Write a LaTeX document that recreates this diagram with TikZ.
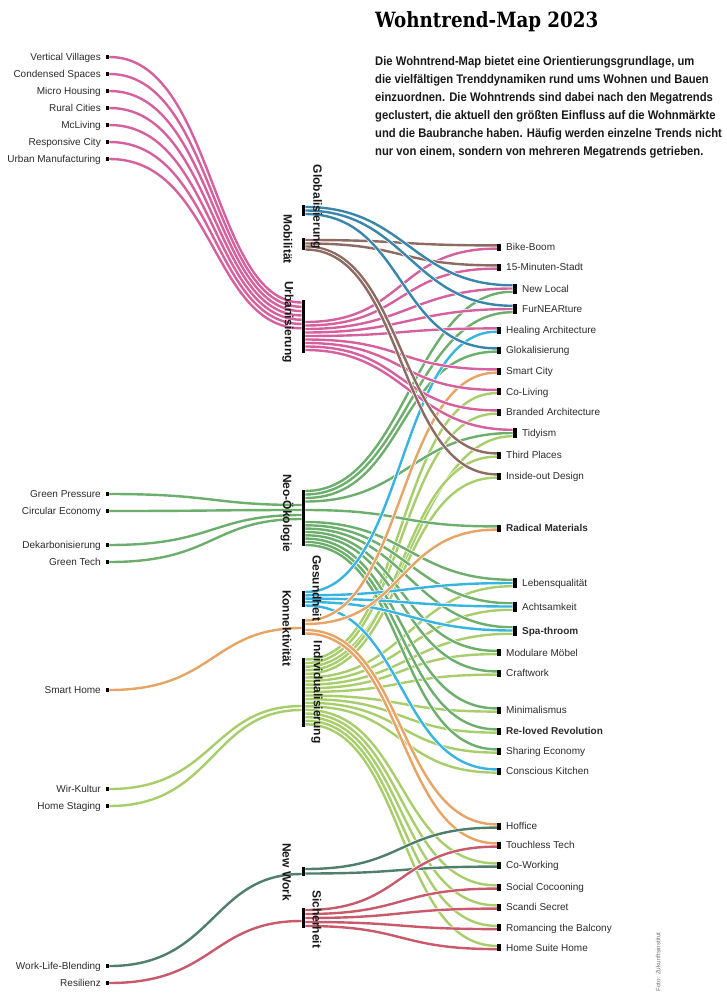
\documentclass[tikz,border=0pt]{standalone}
\usepackage{fontspec}
\setmainfont{Liberation Sans}
\newfontfamily\titlefont{DejaVu Serif}[FakeStretch=0.87]
\newfontfamily\condfont{Liberation Sans}[FakeStretch=0.9]
\usetikzlibrary{calc}
\pgfdeclarelayer{bg}
\pgfsetlayers{bg,main}
\definecolor{cUrb}{HTML}{D6609E}
\definecolor{cGlob}{HTML}{3A86AA}
\definecolor{cMob}{HTML}{8E6B62}
\definecolor{cNeo}{HTML}{6CAE6C}
\definecolor{cGes}{HTML}{37B4E0}
\definecolor{cKon}{HTML}{E8A464}
\definecolor{cInd}{HTML}{A8CE6B}
\definecolor{cNW}{HTML}{4F7E6B}
\definecolor{cSich}{HTML}{C85A6B}
\definecolor{labtxt}{HTML}{2B2B2B}
\tikzset{
  link/.style={draw=#1, line width=2.4pt, preaction={draw=white, line width=3.7pt}},
  mbar/.style={fill=black, inner sep=0pt, minimum width=3.5pt, draw=none},
  smk/.style={fill=black, inner sep=0pt, minimum width=4pt, minimum height=7pt},
  bmk/.style={fill=black, inner sep=0pt, minimum width=4.5pt, minimum height=10pt},
  lmk/.style={fill=black, inner sep=0pt, minimum width=3.5pt, minimum height=3.5pt},
  rlab/.style={anchor=base west, inner sep=0pt, text=labtxt, font=\fontsize{10}{12}\selectfont},
  llab/.style={anchor=base east, inner sep=0pt, text=labtxt, font=\fontsize{10}{12}\selectfont},
  mlab/.style={rotate=-90, inner sep=0pt, text=black!90, font=\bfseries\fontsize{12}{14}\selectfont},
  para/.style={anchor=base west, inner sep=0pt, text=black!90, font=\condfont\bfseries\fontsize{12.5}{18}\selectfont}
}
\newcommand\TrLeft[3]{\node[lmk] (#1) at (107.5,#2) {}; \node[llab] (#1-t) at (101,#2+3.5) {#3};}
\newcommand\TrS[3]{\node[smk] (#1) at (499,#2) {}; \node[rlab] (#1-t) at (506,#2+3.5) {#3};}
\newcommand\TrB[3]{\node[bmk] (#1) at (515,#2) {}; \node[rlab] (#1-t) at (522,#2+3.5) {#3};}
\newcommand\RLink[5]{\draw[link=#1] (#2.east |- 0,#3) .. controls +(100,0) and +(-100,0) .. ($(#4.west)+(0,#5)$);}
\newcommand\LLink[4]{\draw[link=#1] (#2.east) .. controls +(105,0) and +(-90,0) .. (#3.west |- 0,#4);}
\begin{document}
\begin{tikzpicture}[x=1pt,y=-1pt]
\useasboundingbox (0,0) rectangle (726,1000);
% title and text
\node[anchor=base west, inner sep=0pt, font=\titlefont\bfseries\fontsize{21}{24}\selectfont] (title) at (375,28) {Wohntrend-Map 2023};
\node[para] (p1) at (375,65.5) {Die Wohntrend-Map bietet eine Orientierungsgrundlage, um};
\node[para] (p2) at (375,83.5) {die vielfältigen Trenddynamiken rund ums Wohnen und Bauen};
\node[para] (p3) at (375,101.5) {einzuordnen. Die Wohntrends sind dabei nach den Megatrends};
\node[para] (p4) at (375,119.5) {geclustert, die aktuell den größten Einfluss auf die Wohnmärkte};
\node[para] (p5) at (375,137.5) {und die Baubranche haben. Häufig werden einzelne Trends nicht};
\node[para] (p6) at (375,155.5) {nur von einem, sondern von mehreren Megatrends getrieben.};
% megatrend bars
\node[mbar, minimum height=11pt] (glob) at (303.5,210.5) {};
\node[mbar, minimum height=12pt] (mob) at (303.5,244) {};
\node[mbar, minimum height=53pt] (urb) at (303.5,326.5) {};
\node[mbar, minimum height=56pt] (neo) at (303.5,518) {};
\node[mbar, minimum height=16pt] (ges) at (303.5,599) {};
\node[mbar, minimum height=16pt] (kon) at (303.5,627) {};
\node[mbar, minimum height=69pt] (ind) at (303.5,692.5) {};
\node[mbar, minimum height=9pt] (nw) at (303.5,871.5) {};
\node[mbar, minimum height=20pt] (sich) at (303.5,918) {};
% left trends
\TrLeft{vv}{57}{Vertical Villages}
\TrLeft{cs}{74}{Condensed Spaces}
\TrLeft{mh}{91}{Micro Housing}
\TrLeft{rc}{108}{Rural Cities}
\TrLeft{mcl}{125}{McLiving}
\TrLeft{rcity}{142}{Responsive City}
\TrLeft{um}{159}{Urban Manufacturing}
\TrLeft{gp}{494}{Green Pressure}
\TrLeft{ce}{511}{Circular Economy}
\TrLeft{dek}{545}{Dekarbonisierung}
\TrLeft{gt}{562}{Green Tech}
\TrLeft{sh}{690}{Smart Home}
\TrLeft{wir}{789}{Wir-Kultur}
\TrLeft{hs}{806}{Home Staging}
\TrLeft{wlb}{966}{Work-Life-Blending}
\TrLeft{res}{983}{Resilienz}
% right trends
\TrS{bike}{247}{Bike-Boom}
\TrS{minute}{267}{15-Minuten-Stadt}
\TrB{newlocal}{288.5}{New Local}
\TrB{furn}{309}{FurNEARture}
\TrS{healing}{330}{Healing Architecture}
\TrS{glokal}{350}{Glokalisierung}
\TrS{smartcity}{371}{Smart City}
\TrS{coliving}{391.5}{Co-Living}
\TrS{branded}{412}{Branded Architecture}
\TrB{tidyism}{433}{Tidyism}
\TrS{third}{455}{Third Places}
\TrS{insideout}{476}{Inside-out Design}
\TrS{radical}{528}{\textbf{Radical Materials}}
\TrB{lebens}{583}{Lebensqualität}
\TrB{acht}{606.5}{Achtsamkeit}
\TrB{spa}{630.5}{\textbf{Spa-throom}}
\TrS{modulare}{652.5}{Modulare Möbel}
\TrS{craft}{673}{Craftwork}
\TrS{minimal}{710}{Minimalismus}
\TrS{reloved}{731}{\textbf{Re-loved Revolution}}
\TrS{sharing}{751}{Sharing Economy}
\TrS{conscious}{771}{Conscious Kitchen}
\TrS{hoffice}{826}{Hoffice}
\TrS{touchless}{845}{Touchless Tech}
\TrS{coworking}{865}{Co-Working}
\TrS{social}{887}{Social Cocooning}
\TrS{scandi}{907}{Scandi Secret}
\TrS{romancing}{927.5}{Romancing the Balcony}
\TrS{homesuite}{947.5}{Home Suite Home}
% links
\begin{pgfonlayer}{bg}
% left links
\LLink{cUrb}{vv}{urb}{302.5}
\LLink{cUrb}{cs}{urb}{306.8}
\LLink{cUrb}{mh}{urb}{311.1}
\LLink{cUrb}{rc}{urb}{315.4}
\LLink{cUrb}{mcl}{urb}{319.7}
\LLink{cUrb}{rcity}{urb}{324}
\LLink{cUrb}{um}{urb}{328.3}
\LLink{cNeo}{gp}{neo}{505}
\LLink{cNeo}{ce}{neo}{510}
\LLink{cNeo}{dek}{neo}{515}
\LLink{cNeo}{gt}{neo}{519}
\LLink{cKon}{sh}{kon}{628}
\LLink{cInd}{wir}{ind}{706}
\LLink{cInd}{hs}{ind}{710}
\LLink{cNW}{wlb}{nw}{874}
\LLink{cSich}{res}{sich}{921}
% Individualisierung
\RLink{cInd}{ind}{659.5}{coliving}{1.6}
\RLink{cInd}{ind}{663.1}{branded}{1.6}
\RLink{cInd}{ind}{666.7}{tidyism}{3.2}
\RLink{cInd}{ind}{670.3}{third}{1.6}
\RLink{cInd}{ind}{673.9}{insideout}{1.6}
\RLink{cInd}{ind}{677.5}{lebens}{3.2}
\RLink{cInd}{ind}{681.1}{acht}{3.2}
\RLink{cInd}{ind}{684.7}{spa}{3.2}
\RLink{cInd}{ind}{688.3}{modulare}{1.6}
\RLink{cInd}{ind}{691.9}{craft}{1.6}
\RLink{cInd}{ind}{695.5}{minimal}{1.6}
\RLink{cInd}{ind}{699.1}{reloved}{1.6}
\RLink{cInd}{ind}{702.7}{sharing}{1.6}
\RLink{cInd}{ind}{706.3}{conscious}{1.6}
\RLink{cInd}{ind}{709.9}{coworking}{-1.6}
\RLink{cInd}{ind}{713.5}{social}{-1.6}
\RLink{cInd}{ind}{717.1}{scandi}{-1.6}
\RLink{cInd}{ind}{720.7}{romancing}{-1.6}
\RLink{cInd}{ind}{724.3}{homesuite}{-1.6}
% Neo-Oekologie
\RLink{cNeo}{neo}{491}{newlocal}{3.2}
\RLink{cNeo}{neo}{494.5}{furn}{3.2}
\RLink{cNeo}{neo}{498}{glokal}{1.6}
\RLink{cNeo}{neo}{501.5}{tidyism}{0}
\RLink{cNeo}{neo}{510}{radical}{-1.6}
\RLink{cNeo}{neo}{522}{lebens}{-3.2}
\RLink{cNeo}{neo}{525.3}{acht}{-3.2}
\RLink{cNeo}{neo}{528.6}{spa}{-3.2}
\RLink{cNeo}{neo}{532}{modulare}{-1.6}
\RLink{cNeo}{neo}{535.3}{craft}{-1.6}
\RLink{cNeo}{neo}{538.6}{minimal}{-1.6}
\RLink{cNeo}{neo}{542}{reloved}{-1.6}
\RLink{cNeo}{neo}{545}{sharing}{-1.6}
% Gesundheit
\RLink{cGes}{ges}{592}{healing}{1.6}
\RLink{cGes}{ges}{595.3}{lebens}{0}
\RLink{cGes}{ges}{598.6}{acht}{0}
\RLink{cGes}{ges}{602}{spa}{0}
\RLink{cGes}{ges}{605.5}{conscious}{-1.6}
% Konnektivitaet
\RLink{cKon}{kon}{620.5}{smartcity}{1.6}
\RLink{cKon}{kon}{624}{radical}{1.6}
\RLink{cKon}{kon}{630}{hoffice}{-1.6}
\RLink{cKon}{kon}{633.5}{touchless}{-1.6}
% Urbanisierung
\RLink{cUrb}{urb}{322}{bike}{1.6}
\RLink{cUrb}{urb}{325.5}{minute}{1.6}
\RLink{cUrb}{urb}{329}{newlocal}{0}
\RLink{cUrb}{urb}{332.5}{furn}{0}
\RLink{cUrb}{urb}{336}{healing}{-1.6}
\RLink{cUrb}{urb}{339.5}{smartcity}{-1.6}
\RLink{cUrb}{urb}{343}{coliving}{-1.6}
\RLink{cUrb}{urb}{346.5}{branded}{-1.6}
\RLink{cUrb}{urb}{350}{tidyism}{-3.2}
% Mobilitaet
\RLink{cMob}{mob}{240}{bike}{-1.6}
\RLink{cMob}{mob}{243.5}{minute}{-1.6}
\RLink{cMob}{mob}{246.5}{third}{-1.6}
\RLink{cMob}{mob}{249.5}{insideout}{-1.6}
% Globalisierung
\RLink{cGlob}{glob}{207}{newlocal}{-3.2}
\RLink{cGlob}{glob}{210.5}{furn}{-3.2}
\RLink{cGlob}{glob}{214}{glokal}{-1.6}
% New Work
\RLink{cNW}{nw}{869}{hoffice}{1.6}
\RLink{cNW}{nw}{873.5}{coworking}{1.6}
% Sicherheit
\RLink{cSich}{sich}{910}{touchless}{1.6}
\RLink{cSich}{sich}{914}{social}{1.6}
\RLink{cSich}{sich}{918}{scandi}{1.6}
\RLink{cSich}{sich}{922}{romancing}{1.6}
\RLink{cSich}{sich}{926}{homesuite}{1.6}
\end{pgfonlayer}
% megatrend labels
\node[mlab] (l-glob) at (316.5,207) {Globalisierung};
\node[mlab] (l-mob) at (288,239) {Mobilität};
\node[mlab] (l-urb) at (288,322) {Urbanisierung};
\node[mlab] (l-neo) at (287,513) {Neo-Ökologie};
\node[mlab] (l-ges) at (317,588) {Gesundheit};
\node[mlab] (l-kon) at (287,628) {Konnektivität};
\node[mlab] (l-ind) at (317,692) {Individualisierung};
\node[mlab] (l-nw) at (287,872) {New Work};
\node[mlab] (l-sich) at (317,919) {Sicherheit};
\node[rotate=90, inner sep=0pt, text=black!55, font=\fontsize{6.3}{7}\selectfont] (foto) at (658,962) {Foto: Zukunftsinstitut};
\end{tikzpicture}
\end{document}
